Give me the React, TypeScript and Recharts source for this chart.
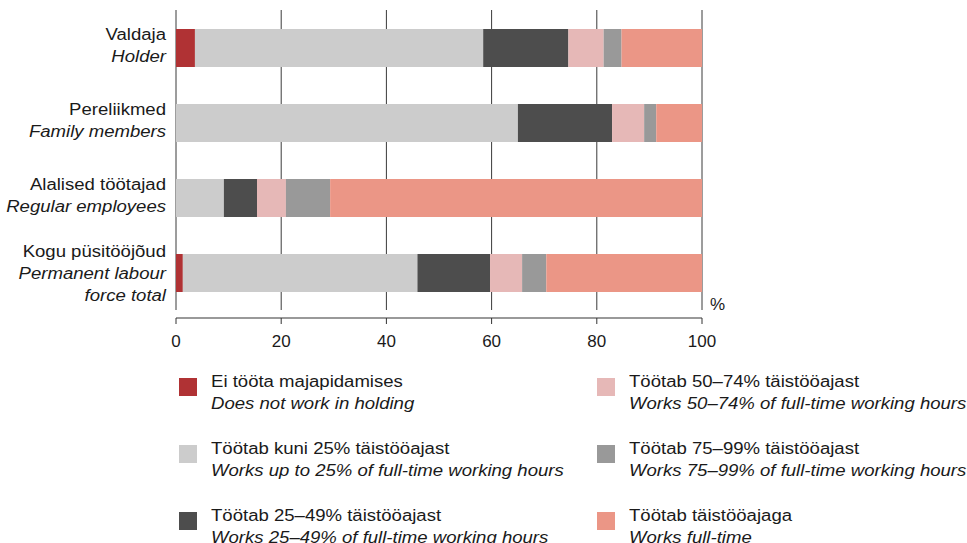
import React from 'react';
import { BarChart, Bar, XAxis, YAxis, CartesianGrid, Label } from 'recharts';

const FONT = '"Liberation Sans", Arial, Helvetica, sans-serif';
// the reference text is drawn a little wider than plain Arial
const STRETCH = 1.16;

const categories = ['Valdaja', 'Pereliikmed', 'Alalised töötajad', 'Kogu püsitööjõud'];
const categoriesEn = [['Holder'], ['Family members'], ['Regular employees'], ['Permanent labour', 'force total']];

const notWorking = [3.6, 0, 0, 1.3];
const upTo25 = [54.8, 65.0, 9.1, 44.6];
const from25to49 = [16.2, 17.9, 6.3, 13.8];
const from50to74 = [6.7, 6.1, 5.5, 6.1];
const from75to99 = [3.4, 2.3, 8.4, 4.6];
const fullTime = [15.3, 8.7, 70.7, 29.6];

const xTicks = [0, 20, 40, 60, 80, 100];

const series = [
  { key: 'notWorking', values: notWorking, color: '#B03234', et: 'Ei tööta majapidamises', en: 'Does not work in holding' },
  { key: 'upTo25', values: upTo25, color: '#CCCCCC', et: 'Töötab kuni 25% täistööajast', en: 'Works up to 25% of full-time working hours' },
  { key: 'from25to49', values: from25to49, color: '#4D4D4D', et: 'Töötab 25–49% täistööajast', en: 'Works 25–49% of full-time working hours' },
  { key: 'from50to74', values: from50to74, color: '#E6B8B7', et: 'Töötab 50–74% täistööajast', en: 'Works 50–74% of full-time working hours' },
  { key: 'from75to99', values: from75to99, color: '#999999', et: 'Töötab 75–99% täistööajast', en: 'Works 75–99% of full-time working hours' },
  { key: 'fullTime', values: fullTime, color: '#EB9686', et: 'Töötab täistööajaga', en: 'Works full-time' },
];

const data = categories.map((name, i) => {
  const row: any = { name };
  series.forEach(s => { row[s.key] = s.values[i]; });
  return row;
});

const CategoryTick = (props: any) => {
  const { x, y, payload } = props;
  const i = categories.indexOf(payload.value);
  const lines = [payload.value, ...(categoriesEn[i] || [])];
  const first = -7 - (lines.length - 2) * 8;
  return (
    <g transform={`translate(${x},0) scale(${STRETCH},1) translate(${-x},0)`}>
      {lines.map((line, k) => (
        <text
          key={k}
          x={x}
          y={y + first + k * 22}
          textAnchor="end"
          fontSize={16}
          fontFamily={FONT}
          fontStyle={k === 0 ? 'normal' : 'italic'}
          fill="#1a1a1a"
        >
          {line}
        </text>
      ))}
    </g>
  );
};

const ValueTick = (props: any) => {
  const { x, y, payload } = props;
  return (
    <text x={x} y={y} dy={21} textAnchor="middle" fontSize={17} fontFamily={FONT} fill="#1a1a1a">
      {payload.value}
    </text>
  );
};

// grid lines stop short of the detached x axis line
const GridLine = (props: any) => (
  <line key={props.key} x1={props.x1} x2={props.x2} y1={props.y1} y2={props.y2 - 8} stroke="#3a3a3a" strokeWidth={1} />
);

const LegendItem = ({ s, left, top }: { s: typeof series[number]; left: number; top: number }) => (
  <div style={{ position: 'absolute', left, top }}>
    <div style={{ position: 'absolute', left: 0, top: 7.5, width: 18, height: 18, background: s.color }} />
    <div
      style={{
        position: 'absolute', left: 32, top: 0, whiteSpace: 'nowrap', fontSize: 16, lineHeight: '22px',
        color: '#1a1a1a', transform: `scaleX(${STRETCH})`, transformOrigin: 'left top',
      }}
    >
      <div>{s.et}</div>
      <div style={{ fontStyle: 'italic' }}>{s.en}</div>
    </div>
  </div>
);

export default function App() {
  return (
    <div style={{ position: 'absolute', left: 0, top: 0, width: 967, height: 543, fontFamily: FONT, background: '#fff', overflow: 'hidden' }}>
      <BarChart
        width={967}
        height={543}
        data={data}
        layout="vertical"
        margin={{ top: 10, right: 265, left: 0, bottom: 195 }}
        barSize={38}
      >
        <CartesianGrid horizontal={false} vertical={GridLine} />
        <XAxis
          type="number"
          domain={[0, 100]}
          ticks={xTicks}
          interval={0}
          height={30}
          axisLine={{ stroke: '#777', strokeWidth: 1.5 }}
          tickLine={{ stroke: '#333' }}
          tickSize={6}
          tick={ValueTick}
        >
          <Label
            content={(p: any) => (
              <text x={p.viewBox.x + p.viewBox.width + 8} y={p.viewBox.y - 8} fontSize={17} fontFamily={FONT} fill="#1a1a1a">
                %
              </text>
            )}
          />
        </XAxis>
        <YAxis
          type="category"
          dataKey="name"
          width={176}
          axisLine={false}
          tickLine={false}
          tickSize={0}
          tickMargin={10}
          padding={{ top: 0, bottom: 8 }}
          tick={CategoryTick}
          interval={0}
        />
        {series.map(s => (
          <Bar key={s.key} dataKey={s.key} stackId="a" fill={s.color} isAnimationActive={false} />
        ))}
      </BarChart>
      {series.map((s, i) => (
        <LegendItem key={s.key} s={s} left={i < 3 ? 179 : 597} top={370.5 + (i % 3) * 67} />
      ))}
    </div>
  );
}
